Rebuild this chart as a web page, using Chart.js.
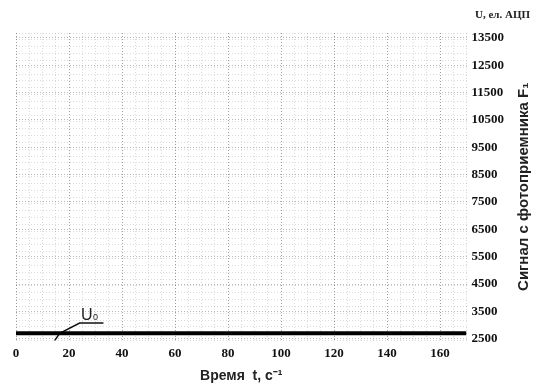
<!DOCTYPE html>
<html>
<head>
<meta charset="utf-8">
<script src="https://cdn.jsdelivr.net/npm/chart.js@4"></script>
<style>
  body { margin: 0; background: #fff; }
  #wrap { width: 536px; height: 385px; }
</style>
</head>
<body>
<div id="wrap"><canvas id="myChart" width="536" height="385"></canvas></div>
<script>
// данные
var timeValues = [0, 170];
var signalValues = [2700, 2700];
var leaderTime = [14.5, 16.5, 24, 33];
var leaderSignal = [2420, 2700, 3070, 3070];
var yTickValues = [2500, 3500, 4500, 5500, 6500, 7500, 8500, 9500, 10500, 11500, 12500, 13500];
var xTickLabels = [0, 20, 40, 60, 80, 100, 120, 140, 160];

var serifBold = { family: 'Liberation Serif', size: 13, weight: 'bold' };
var sansBold = { family: 'Liberation Sans', size: 14, weight: 'bold' };

function pts(xs, ys) {
  return xs.map(function (x, i) { return { x: x, y: ys[i] }; });
}

// подписи, которые Chart.js сам не рисует как надо
var labelsPlugin = {
  id: 'labels',
  afterDraw: function (chart) {
    var ctx = chart.ctx;
    var area = chart.chartArea;
    var xs = chart.scales.x, ys = chart.scales.y;
    ctx.save();
    ctx.fillStyle = '#222';
    ctx.font = 'bold 11px "Liberation Serif"';
    ctx.textAlign = 'right';
    ctx.textBaseline = 'middle';
    ctx.fillText('U, ел. АЦП', 530, 15);

    ctx.translate(524, (area.top + area.bottom) / 2);
    ctx.rotate(-Math.PI / 2);
    ctx.textAlign = 'center';
    ctx.font = 'bold 15px "Liberation Sans"';
    ctx.fillText('Сигнал с фотоприемника F₁', 0, 0);
    ctx.restore();

    ctx.save();
    ctx.fillStyle = '#222';
    ctx.font = '16px "Liberation Sans"';
    ctx.textAlign = 'left';
    ctx.textBaseline = 'alphabetic';
    var px = xs.getPixelForValue(24.5), py = ys.getPixelForValue(3200);
    ctx.fillText('U', px, py);
    ctx.font = '9px "Liberation Sans"';
    ctx.fillText('0', px + 12, py);
    ctx.restore();
  }
};

var ctx = document.getElementById('myChart').getContext('2d');
var chart = new Chart(ctx, {
  type: 'line',
  data: {
    datasets: [{
        label: 'U',
        data: pts(timeValues, signalValues),
        borderColor: '#000',
        borderWidth: 4,
        pointRadius: 0,
        fill: false
      },
      {
        label: 'U0',
        data: pts(leaderTime, leaderSignal),
        borderColor: '#111',
        borderWidth: 1.5,
        pointRadius: 0,
        fill: false
      }
    ]
  },
  options: {
    responsive: false,
    animation: false,
    layout: { padding: { top: 33, left: 16, right: 27, bottom: 0 } },
    plugins: { legend: { display: false }, tooltip: { enabled: false } },
    scales: {
      x: {
        type: 'linear',
        min: 0,
        max: 170,
        afterBuildTicks: function (axis) {
          axis.ticks = xTickLabels.map(function (v) { return { value: v }; });
        },
        grid: { color: 'rgba(0,0,0,0.28)', lineWidth: 1, drawTicks: false },
        border: { display: false, dash: [1, 2] },
        ticks: { color: '#111', font: serifBold, padding: 5, maxRotation: 0,
          callback: function (v) { return String(v); } },
        title: { display: true, text: 'Время  t, с⁻¹', color: '#222', font: sansBold, padding: { top: 2, bottom: 0 } }
      },
      xMinor: {
        type: 'linear',
        position: 'bottom',
        min: 0,
        max: 170,
        ticks: { display: false, stepSize: 5 },
        grid: { color: 'rgba(0,0,0,0.14)', drawTicks: false },
        border: { display: false, dash: [1, 2] },
        afterFit: function (axis) { axis.height = 0; }
      },
      y: {
        position: 'right',
        min: 2430,
        max: 13680,
        afterBuildTicks: function (axis) {
          axis.ticks = yTickValues.map(function (v) { return { value: v }; });
        },
        grid: { color: 'rgba(0,0,0,0.28)', drawTicks: false },
        border: { display: false, dash: [1, 2] },
        ticks: { color: '#111', font: serifBold, padding: 5,
          callback: function (v) { return String(v); } }
      },
      yMinor: {
        position: 'right',
        min: 2430,
        max: 13680,
        ticks: { display: false, stepSize: 250 },
        grid: { color: 'rgba(0,0,0,0.14)', drawTicks: false },
        border: { display: false, dash: [1, 2] },
        afterFit: function (axis) { axis.width = 0; }
      }
    }
  },
  plugins: [labelsPlugin]
});
</script>
</body>
</html>
